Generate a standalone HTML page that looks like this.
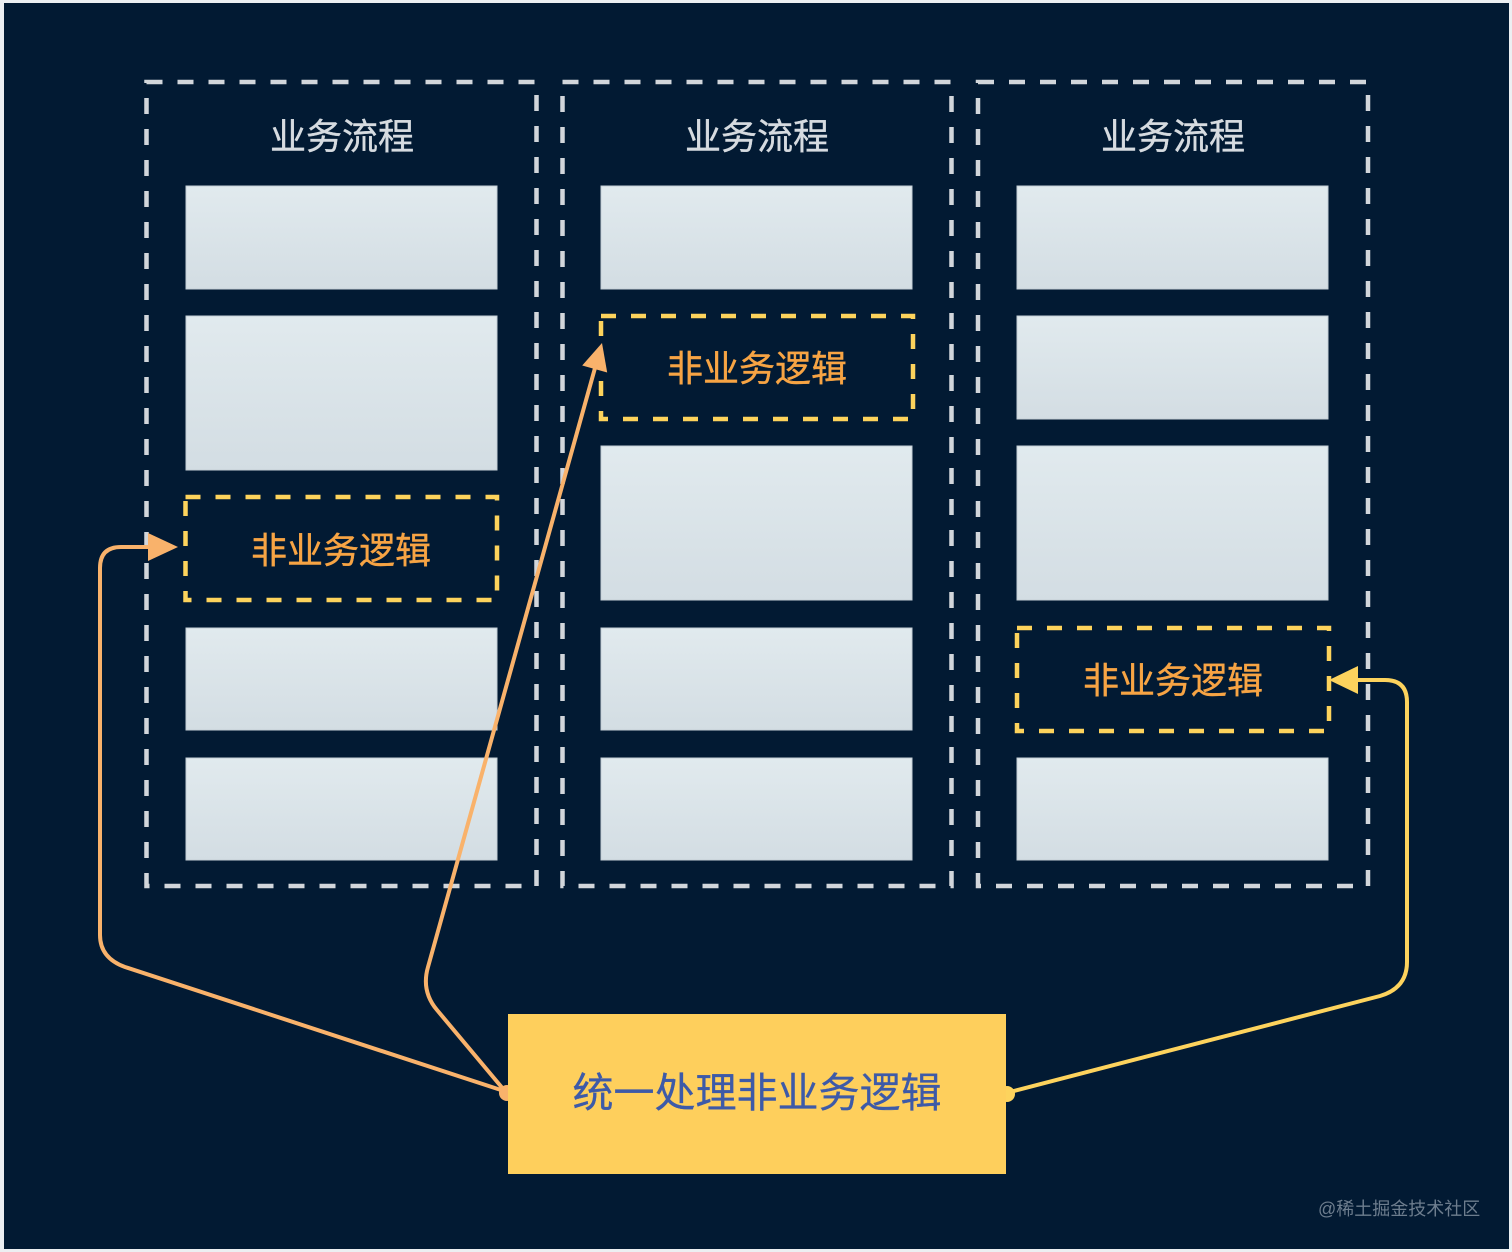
<!DOCTYPE html>
<html>
<head>
<meta charset="utf-8">
<style>
  html, body { margin:0; padding:0; background:#eceff2; }
  body { width:1512px; height:1252px; overflow:hidden; }
  svg { display:block; }
  text { font-family: "Liberation Sans", "Noto Sans CJK SC", sans-serif; }
</style>
</head>
<body>
<svg width="1512" height="1252" viewBox="0 0 1512 1252" xmlns="http://www.w3.org/2000/svg">
  <defs>
    <linearGradient id="g" x1="0" y1="0" x2="0" y2="1">
      <stop offset="0" stop-color="#e1eaee"/>
      <stop offset="1" stop-color="#d3dde3"/>
    </linearGradient>
  </defs>
  <rect x="4" y="3" width="1505" height="1246" fill="#021a33"/>

  <!-- column dashed frames -->
  <g fill="none" stroke="#d2d6db" stroke-width="4.5" stroke-dasharray="16 15">
    <rect x="146.5" y="82" width="390" height="804"/>
    <rect x="562.5" y="82" width="389" height="804"/>
    <rect x="978" y="82" width="390" height="804"/>
  </g>

  <!-- titles -->
  <g fill="#d6dbe0" font-size="36" text-anchor="middle" stroke="#d6dbe0" stroke-width="0.4">
    <text x="342" y="149">业务流程</text>
    <text x="757" y="149">业务流程</text>
    <text x="1173" y="149">业务流程</text>
  </g>

  <!-- light boxes -->
  <g fill="url(#g)" stroke="#c4ced6" stroke-width="1">
    <rect x="186" y="186" width="311" height="103"/>
    <rect x="186" y="316" width="311" height="154"/>
    <rect x="186" y="628" width="311" height="102"/>
    <rect x="186" y="758" width="311" height="102"/>

    <rect x="601" y="186" width="311" height="103"/>
    <rect x="601" y="446" width="311" height="154"/>
    <rect x="601" y="628" width="311" height="102"/>
    <rect x="601" y="758" width="311" height="102"/>

    <rect x="1017" y="186" width="311" height="103"/>
    <rect x="1017" y="316" width="311" height="103"/>
    <rect x="1017" y="446" width="311" height="154"/>
    <rect x="1017" y="758" width="311" height="102"/>
  </g>

  <!-- yellow dashed boxes -->
  <g fill="none" stroke="#fdd35c" stroke-width="4.5" stroke-dasharray="15 15">
    <rect x="185.5" y="497" width="311.5" height="103"/>
    <rect x="601" y="316" width="312" height="103"/>
    <rect x="1017" y="628" width="312" height="103"/>
  </g>
  <g fill="#f7a444" font-size="36" text-anchor="middle" stroke="#f7a444" stroke-width="0.4">
    <text x="341" y="563">非业务逻辑</text>
    <text x="757" y="381">非业务逻辑</text>
    <text x="1173" y="693">非业务逻辑</text>
  </g>

  <!-- connectors -->
  <g fill="none" stroke-width="4" stroke-linejoin="round" stroke-linecap="round">
    <path d="M 504 1091 L 125 967 Q 100 958 100 935 L 100 568 Q 100 547 121 547 L 150 547" stroke="#f9b26b"/>
    <path d="M 504 1090 L 437 1010 Q 421 991 428 967 L 595 368" stroke="#f9b26b"/>
    <path d="M 1006 1093 L 1380 996 Q 1407 988 1407 962 L 1407 702 Q 1407 680 1385 680 L 1356 680" stroke="#fdd35d"/>
  </g>
  <polygon points="178,547 148,533 148,561" fill="#f9b26b"/>
  <polygon points="602,343 607.2,372.5 582.2,365.5" fill="#f9b26b"/>
  <polygon points="1329,680 1358,666 1358,694" fill="#fdd35d"/>

  <circle cx="507" cy="1093" r="8" fill="#f9b26b"/>
  <circle cx="1007" cy="1094" r="8" fill="#fdd35d"/>

  <!-- bottom box -->
  <rect x="508" y="1014" width="498" height="160" fill="#fecf5c"/>
  <text x="757" y="1107" fill="#3d5aa8" font-size="41" text-anchor="middle" stroke="#3d5aa8" stroke-width="0.3">统一处理非业务逻辑</text>

  <!-- watermark -->
  <text x="1318" y="1215" fill="#6d7d8e" font-size="18">@稀土掘金技术社区</text>
</svg>
</body>
</html>
